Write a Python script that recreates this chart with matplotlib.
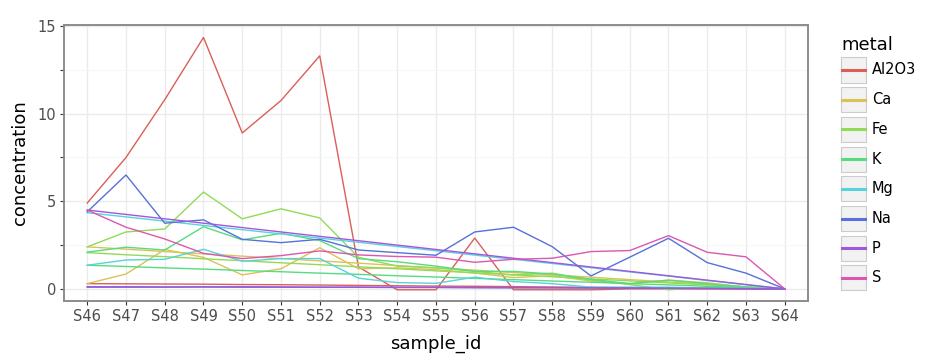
import matplotlib.pyplot as plt
from matplotlib.patches import Rectangle
from matplotlib.lines import Line2D

samples = ["S%d" % i for i in range(46, 65)]
metals = ["Al2O3", "Ca", "Fe", "K", "Mg", "Na", "P", "S"]
colors = ["#DB5F57", "#DBC257", "#91DB57", "#57DB80", "#57D3DB", "#5770DB", "#A157DB", "#DB57B2"]

# two sample groups per metal (irregular one and the smooth one)
group_a = {
    "Al2O3": [4.9, 7.5, 10.8, 14.35, 8.9, 10.75, 13.3, 1.25, -0.05, -0.05, 2.9, -0.05, -0.05, -0.05, 0.0, 0.0, 0.0, 0.0, 0.0],
    "Ca": [0.3, 0.85, 2.25, 1.8, 0.8, 1.15, 2.35, 1.15, 1.2, 1.1, 0.9, 0.65, 0.75, 0.45, 0.3, 0.5, 0.35, 0.1, 0.0],
    "Fe": [2.4, 3.25, 3.42, 5.53, 4.0, 4.57, 4.05, 1.8, 1.3, 1.2, 1.0, 0.8, 0.9, 0.5, 0.25, -0.05, 0.1, 0.05, 0.0],
    "K": [2.1, 2.38, 2.22, 3.55, 2.8, 3.17, 2.76, 1.73, 1.55, 1.3, 1.0, 1.0, 0.85, 0.55, 0.3, 0.5, 0.3, 0.1, 0.0],
    "Mg": [1.35, 1.65, 1.69, 2.26, 1.58, 1.73, 1.73, 0.61, 0.36, 0.32, 0.67, 0.42, 0.3, 0.1, 0.1, 0.1, 0.05, 0.05, 0.0],
    "Na": [4.4, 6.5, 3.75, 3.94, 2.83, 2.64, 2.83, 2.22, 2.07, 1.92, 3.25, 3.52, 2.41, 0.74, 1.81, 2.89, 1.5, 0.9, 0.0],
    "P": [0.1, 0.1, 0.1, 0.12, 0.12, 0.11, 0.1, 0.1, 0.09, 0.09, 0.08, 0.08, 0.07, 0.06, 0.05, 0.04, 0.03, 0.02, 0.0],
    "S": [4.5, 3.52, 2.85, 2.03, 1.73, 1.9, 2.17, 1.94, 1.85, 1.81, 1.52, 1.69, 1.75, 2.13, 2.19, 3.04, 2.09, 1.83, 0.0],
}
group_b = {
    "Al2O3": [0.3, 0.29, 0.28, 0.27, 0.25, 0.24, 0.22, 0.2, 0.18, 0.16, 0.15, 0.13, 0.11, 0.09, 0.07, 0.05, 0.04, 0.02, 0.0],
    "Ca": [2.4, 2.27, 2.13, 2.0, 1.87, 1.73, 1.6, 1.47, 1.33, 1.2, 1.07, 0.93, 0.8, 0.67, 0.53, 0.4, 0.27, 0.13, 0.0],
    "Fe": [2.07, 1.95, 1.84, 1.72, 1.61, 1.49, 1.38, 1.26, 1.15, 1.03, 0.92, 0.8, 0.69, 0.57, 0.46, 0.34, 0.23, 0.11, 0.0],
    "K": [1.35, 1.28, 1.2, 1.13, 1.05, 0.98, 0.9, 0.83, 0.75, 0.68, 0.6, 0.53, 0.45, 0.38, 0.3, 0.23, 0.15, 0.08, 0.0],
    "Mg": [4.35, 4.11, 3.87, 3.62, 3.38, 3.14, 2.9, 2.66, 2.42, 2.18, 1.93, 1.69, 1.45, 1.21, 0.97, 0.73, 0.48, 0.24, 0.0],
    "Na": [0.12, 0.12, 0.11, 0.11, 0.1, 0.1, 0.09, 0.09, 0.08, 0.08, 0.07, 0.06, 0.06, 0.05, 0.04, 0.03, 0.02, 0.01, 0.0],
    "P": [4.5, 4.25, 4.0, 3.75, 3.5, 3.25, 3.0, 2.75, 2.5, 2.25, 2.0, 1.75, 1.5, 1.25, 1.0, 0.75, 0.5, 0.25, 0.0],
}

fig = plt.figure(figsize=(9.48, 3.63), dpi=100)
ax = fig.add_axes([64 / 948, 1 - 301 / 363, (808 - 64) / 948, (301 - 25) / 363])

x = list(range(len(samples)))
for m, c in zip(metals, colors):
    ax.plot(x, group_a[m], color=c, lw=1.0, zorder=3)
    if m in group_b:
        ax.plot(x, group_b[m], color=c, lw=1.0, zorder=3)

ax.set_xlim(-0.6, len(samples) - 0.4)
ax.set_ylim(-0.69, 15.06)
ax.set_xticks(x)
ax.set_xticklabels(samples)
ax.set_yticks([0, 5, 10, 15])
ax.set_yticks([2.5, 7.5, 12.5], minor=True)
ax.grid(which="major", color="#EBEBEB", lw=1.0, zorder=0)
ax.grid(which="minor", axis="y", color="#F5F5F5", lw=0.6, zorder=0)
ax.set_axisbelow(True)
for s in ax.spines.values():
    s.set_color("#8C8C8C")
    s.set_linewidth(1.4)
ax.tick_params(which="both", colors="#333333", length=3, width=0.8, labelsize=10.5,
               labelcolor="#4D4D4D", pad=2.5)
ax.set_xlabel("sample_id", fontsize=13, labelpad=8)
ax.set_ylabel("concentration", fontsize=13, labelpad=6)

# legend drawn by hand to get the grey key boxes
W, H = 948, 363
fig.text(841 / W, 1 - 45 / H, "metal", fontsize=13, va="center", ha="left")
for i, (m, c) in enumerate(zip(metals, colors)):
    yc = 70 + i * 29.7
    fig.add_artist(Rectangle((841 / W, 1 - (yc + 12.5) / H), 25 / W, 25 / H,
                             transform=fig.transFigure, facecolor="#F2F2F2",
                             edgecolor="#CCCCCC", lw=0.8))
    fig.add_artist(Line2D([842 / W, 865 / W], [1 - yc / H, 1 - yc / H],
                          transform=fig.transFigure, color=c, lw=2.2))
    fig.text(872 / W, 1 - yc / H, m, fontsize=10.5, va="center", ha="left")

fig.savefig("out.png", dpi=100)
